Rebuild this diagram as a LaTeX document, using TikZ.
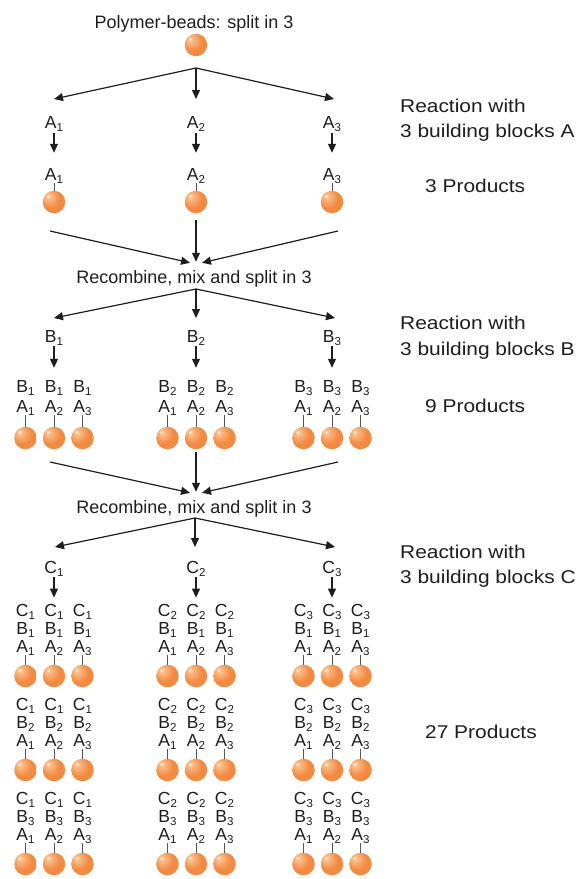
\documentclass[tikz,border=0pt]{standalone}
\usepackage{fontspec}
\setmainfont{Liberation Sans}
\usetikzlibrary{arrows.meta}

\definecolor{beadhi}{RGB}{255,240,228}
\definecolor{beadlight}{RGB}{250,190,138}
\definecolor{beadmain}{RGB}{243,138,66}
\definecolor{beaddark}{RGB}{208,92,34}
\definecolor{ink}{RGB}{30,30,30}

% sphere look for the polymer beads: light spot at upper left
\pgfdeclareradialshading{beadball}{\pgfpoint{-14bp}{14bp}}{%
  color(0bp)=(beadhi); color(5bp)=(beadlight); color(22bp)=(beadmain);
  color(40bp)=(beadmain); color(52bp)=(beaddark); color(60bp)=(beaddark)}

% building block with its index, e.g. A_1
\newcommand{\blk}[2]{#1\raisebox{-3pt}{\fontsize{11.5}{11.5}\selectfont #2}}
\newcommand{\wide}[1]{\scalebox{1.13}[1]{#1}}

\tikzset{
  bead/.style={circle, minimum size=22.5pt, inner sep=0pt, shading=beadball},
  lab/.style={font=\fontsize{17.5}{17.5}\selectfont, text=ink, inner sep=0pt, anchor=base},
  headline/.style={font=\fontsize{18}{18}\selectfont, text=ink, inner sep=0pt, anchor=base},
  sidenote/.style={font=\fontsize{18.5}{18.5}\selectfont, text=ink, inner sep=0pt, anchor=base west},
  arr/.style={draw=ink, line width=1.2pt, -{Triangle[length=9pt,width=8pt]}},
  stick/.style={draw=ink!75, line width=0.9pt},
}

\begin{document}
\begin{tikzpicture}[x=1pt, y=-1pt]
\fill[white] (0,0) rectangle (579,879);
\useasboundingbox (0,0) rectangle (579,879);

% ---------- start: one bead, split in three ----------
\node[headline] (title) at (194,28) {Polymer-beads: split in 3};
\node[bead] (b0) at (196,45) {};
\coordinate (sp1) at (196,68);

% ---------- step A ----------
\foreach \g/\X/\T in {1/54/54, 2/196/196, 3/332/334} {
  \coordinate (tA\g) at (\T,99);
  \draw[arr] (sp1) -- (tA\g);
  \node[lab] (rA\g) at (\X,128) {\blk{A}{\g}};
  \node[lab] (pA\g) at (\X,180) {\blk{A}{\g}};
  \node[bead] (bA\g) at (\X,202) {};
  \draw[arr, shorten <=2pt, shorten >=15pt] (rA\g.south) -- (pA\g.north);
  \draw[stick] (pA\g.south) -- (bA\g.north);
}

% ---------- recombine, split for step B ----------
\node[headline] (rec1) at (194,283) {Recombine, mix and split in 3};
\coordinate (cv1L) at (50,231);
\coordinate (cv1M) at (196,220);
\coordinate (cv1R) at (338,231);
\draw[arr] (cv1L) -- ([xshift=-4pt,yshift=7pt]rec1.north);
\draw[arr] (cv1M) -- ([xshift=2pt,yshift=8pt]rec1.north);
\draw[arr] (cv1R) -- ([xshift=8pt,yshift=7pt]rec1.north);
\coordinate (sp2) at (196,289);

\foreach \g/\X/\T in {1/54/54, 2/196/196, 3/332/335} {
  \coordinate (tB\g) at (\T,318);
  \draw[arr] (sp2) -- (tB\g);
  \node[lab] (rB\g) at (\X,342) {\blk{B}{\g}};
  \foreach \i in {1,2,3} {
    \node[lab] (qB\g\i) at ({\X+(\i-2)*28.5},392) {\blk{B}{\g}};
    \node[lab] (qA\g\i) at ({\X+(\i-2)*28.5},412) {\blk{A}{\i}};
    \node[bead] (bB\g\i) at ({\X+(\i-2)*28.5},438) {};
    \draw[stick] (qA\g\i.south) -- (bB\g\i.north);
  }
  \draw[arr, shorten <=1pt, shorten >=12pt] (rB\g.south) -- (qB\g2.north);
}

% ---------- recombine, split for step C ----------
\node[headline] (rec2) at (194,513) {Recombine, mix and split in 3};
\coordinate (cv2L) at (50,462);
\coordinate (cv2M) at (196,452);
\coordinate (cv2R) at (338,462);
\draw[arr] (cv2L) -- ([xshift=-4pt,yshift=7pt]rec2.north);
\draw[arr] (cv2M) -- ([xshift=2pt,yshift=8pt]rec2.north);
\draw[arr] (cv2R) -- ([xshift=8pt,yshift=7pt]rec2.north);
\coordinate (sp3) at (195,518);

\foreach \g/\X/\T in {1/54/55, 2/196/195, 3/332/335} {
  \coordinate (tC\g) at (\T,547);
  \draw[arr] (sp3) -- (tC\g);
  \node[lab] (rC\g) at (\X,573) {\blk{C}{\g}};
  \foreach \r/\Y in {1/676, 2/770, 3/864} {
    \foreach \i in {1,2,3} {
      \node[lab] (sC\g\r\i) at ({\X+(\i-2)*28.5},\Y-60) {\blk{C}{\g}};
      \node[lab] (sB\g\r\i) at ({\X+(\i-2)*28.5},\Y-42) {\blk{B}{\r}};
      \node[lab] (sA\g\r\i) at ({\X+(\i-2)*28.5},\Y-24) {\blk{A}{\i}};
      \node[bead] (bC\g\r\i) at ({\X+(\i-2)*28.5},\Y) {};
      \draw[stick] (sA\g\r\i.south) -- (bC\g\r\i.north);
    }
  }
  \draw[arr, shorten <=1pt, shorten >=6pt] (rC\g.south) -- (sC\g12.north);
}

% ---------- notes on the right ----------
\node[sidenote] (nA1) at (400,112) {\wide{Reaction with}};
\node[sidenote] (nA2) at (400,137) {\wide{3 building blocks A}};
\node[sidenote] (nA3) at (425,192) {\wide{3 Products}};
\node[sidenote] (nB1) at (400,329) {\wide{Reaction with}};
\node[sidenote] (nB2) at (400,355) {\wide{3 building blocks B}};
\node[sidenote] (nB3) at (425,412) {\wide{9 Products}};
\node[sidenote] (nC1) at (400,558) {\wide{Reaction with}};
\node[sidenote] (nC2) at (400,583) {\wide{3 building blocks C}};
\node[sidenote] (nC3) at (425,738) {\wide{27 Products}};
\end{tikzpicture}
\end{document}
